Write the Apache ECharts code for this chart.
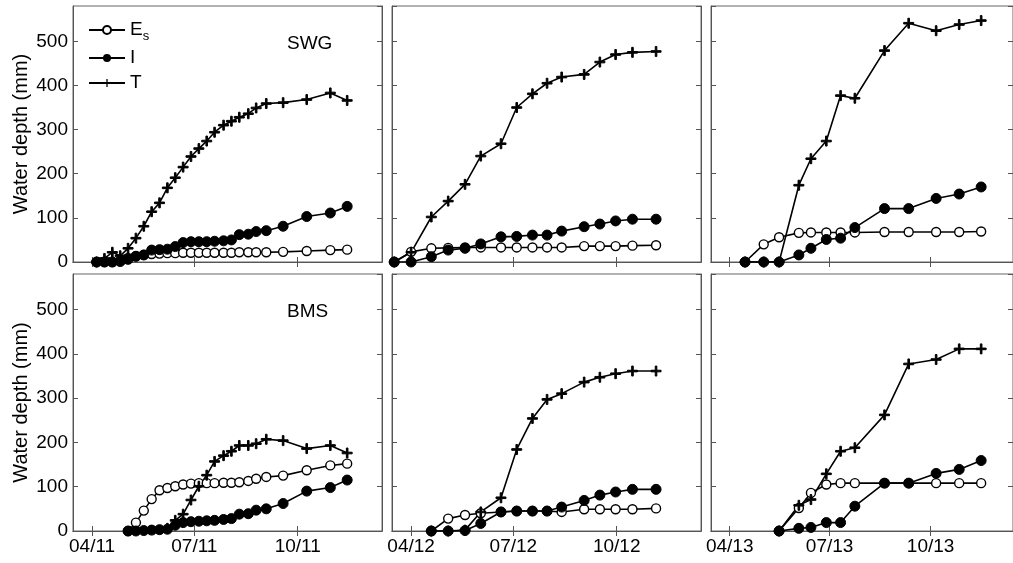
<!DOCTYPE html>
<html>
<head>
<meta charset="utf-8">
<script src="https://cdn.jsdelivr.net/npm/echarts@6/dist/echarts.min.js"></script>
<style>
  html, body { margin: 0; padding: 0; background: #fff; }
  #chart { width: 1013px; height: 563px; }
</style>
</head>
<body>
<div id="chart"></div>
<script>
// sampling dates per season
const dates11 = ['2011-04-05','2011-04-12','2011-04-19','2011-04-26','2011-05-03','2011-05-10','2011-05-17','2011-05-24','2011-05-31','2011-06-07','2011-06-14','2011-06-21','2011-06-28','2011-07-05','2011-07-12','2011-07-19','2011-07-27','2011-08-03','2011-08-10','2011-08-18','2011-08-25','2011-09-03','2011-09-18','2011-10-09','2011-10-30','2011-11-14'];
const dates12 = ['2012-03-17','2012-04-01','2012-04-19','2012-05-04','2012-05-19','2012-06-02','2012-06-20','2012-07-04','2012-07-18','2012-07-31','2012-08-13','2012-09-02','2012-09-16','2012-09-30','2012-10-15','2012-11-05'];
const dates13 = ['2013-04-15','2013-05-02','2013-05-16','2013-06-03','2013-06-14','2013-06-28','2013-07-11','2013-07-24','2013-08-20','2013-09-11','2013-10-06','2013-10-27','2013-11-16'];

// SWG (top row)
const swgEs11 = [0,0,0,3,9,13,16,18,19,20,20,21,21,21,21,21,21,21,22,22,22,22,23,25,27,28];
const swgI11  = [0,0,0,1,6,13,16,27,28,29,35,44,46,46,46,47,48,50,62,63,69,71,81,103,111,126];
const swgT11  = [0,8,22,14,31,54,81,114,134,168,191,215,239,257,274,294,310,319,328,336,349,359,361,368,383,366];
const swgEs12 = [0,23,31,32,33,33,33,33,33,33,33,36,36,36,37,38];
const swgI12  = [0,0,12,27,31,41,57,58,61,61,70,80,86,93,97,97];
const swgT12  = [0,22,102,138,176,240,268,350,381,405,419,425,453,470,475,477];
const swgEs13 = [0,40,56,66,67,67,67,67,68,68,68,68,69];
const swgI13  = [0,0,0,16,31,51,54,78,121,121,144,154,170];
const swgT13  = [0,0,0,174,234,274,377,371,479,541,524,538,547];

// BMS (bottom row), later start dates
const bmsDatesEI11 = dates11.slice(4);
const bmsDatesT11 = dates11.slice(9);
const bmsEs11 = [0,19,46,72,92,97,101,105,107,108,108,108,109,109,110,113,118,122,125,137,148,152];
const bmsI11  = [0,0,1,2,3,4,13,19,21,22,23,24,26,28,38,39,47,50,62,90,98,115];
const bmsT11  = [6,24,38,70,101,126,157,170,180,193,193,197,207,204,186,193,176];
const bmsDates12 = dates12.slice(2);
const bmsEs12 = [0,28,36,40,43,45,45,45,43,49,49,49,49,51];
const bmsI12  = [0,0,1,17,43,45,45,45,54,69,81,88,94,94];
const bmsT12  = [0,0,2,43,75,184,254,297,310,336,347,355,361,361];
const bmsDates13 = dates13.slice(2);
const bmsEs13 = [0,52,86,105,108,108,108,108,108,108,108];
const bmsI13  = [0,6,8,19,19,56,108,108,130,139,159];
const bmsT13  = [0,58,71,129,180,188,262,377,387,411,411];

const years = [2011, 2012, 2013];
const sites = ['SWG', 'BMS'];

const panels = [
  { es: [dates11, swgEs11], i: [dates11, swgI11], t: [dates11, swgT11] },
  { es: [dates12, swgEs12], i: [dates12, swgI12], t: [dates12, swgT12] },
  { es: [dates13, swgEs13], i: [dates13, swgI13], t: [dates13, swgT13] },
  { es: [bmsDatesEI11, bmsEs11], i: [bmsDatesEI11, bmsI11], t: [bmsDatesT11, bmsT11] },
  { es: [bmsDates12, bmsEs12], i: [bmsDates12, bmsI12], t: [bmsDates12, bmsT12] },
  { es: [bmsDates13, bmsEs13], i: [bmsDates13, bmsI13], t: [bmsDates13, bmsT13] }
];

const ts = s => new Date(s + 'T00:00:00').getTime();
const zip = (d, v) => d.map((x, k) => [ts(x), v[k]]);
const plus = 'path://M4.2,0H5.8V4.2H10V5.8H5.8V10H4.2V5.8H0V4.2H4.2Z';
const font = 'Liberation Sans, Arial, sans-serif';

const lefts = [73, 392, 711];
const tops = [6, 274];
const heights = [256, 257];

const chart = echarts.init(document.getElementById('chart'));

const grid = [], xAxis = [], yAxis = [], series = [];
for (let r = 0; r < 2; r++) {
  for (let c = 0; c < 3; c++) {
    const p = r * 3 + c;
    const yr = years[c];
    const ticks = [new Date(yr, 3, 1).getTime(), new Date(yr, 6, 1).getTime(), new Date(yr, 9, 1).getTime()];
    grid.push({
      left: lefts[c], top: tops[r], width: 309, height: heights[r],
      show: true, borderColor: '#666', borderWidth: 1
    });
    const xBase = {
      gridIndex: p, type: 'value',
      min: new Date(yr, 2, 15).getTime(), max: new Date(yr, 11, 15).getTime(),
      splitLine: { show: false },
      axisLine: { show: true, lineStyle: { color: '#555' } },
      axisTick: { show: true, inside: true, length: 5, customValues: ticks, lineStyle: { color: '#555' } }
    };
    xAxis.push(Object.assign({}, xBase, {
      position: 'bottom',
      axisLabel: {
        show: r === 1, customValues: ticks, margin: 6,
        fontSize: 19, color: '#000', fontFamily: font,
        formatter: v => {
          const d = new Date(v);
          return String(d.getMonth() + 1).padStart(2, '0') + '/' + String(d.getFullYear()).slice(2);
        }
      }
    }));
    xAxis.push(Object.assign({}, xBase, { position: 'top', axisLabel: { show: false } }));

    const yBase = {
      gridIndex: p, type: 'value', min: 0, max: 580, interval: 100,
      splitLine: { show: false },
      axisLine: { show: true, lineStyle: { color: '#555' } },
      axisTick: { show: true, inside: true, length: 5, lineStyle: { color: '#555' } }
    };
    yAxis.push(Object.assign({}, yBase, {
      position: 'left',
      name: c === 0 ? 'Water depth (mm)' : '',
      nameLocation: 'middle', nameGap: 42,
      nameTextStyle: { fontSize: 20, color: '#000', fontFamily: font },
      axisLabel: {
        show: c === 0, showMaxLabel: false, margin: 5,
        fontSize: 19, color: '#000', fontFamily: font
      }
    }));
    yAxis.push(Object.assign({}, yBase, { position: 'right', axisLabel: { show: false } }));

    const common = {
      type: 'line', xAxisIndex: p * 2, yAxisIndex: p * 2,
      lineStyle: { color: '#000', width: 1.6 },
      itemStyle: { color: '#000', borderColor: '#000' },
      emphasis: { disabled: true }
    };
    const pd = panels[p];
    series.push(Object.assign({}, common, {
      name: 'Es', data: zip(pd.es[0], pd.es[1]),
      symbol: 'circle', symbolSize: 9,
      itemStyle: { color: '#fff', borderColor: '#000', borderWidth: 1.4 }
    }));
    series.push(Object.assign({}, common, {
      name: 'I', data: zip(pd.i[0], pd.i[1]),
      symbol: 'circle', symbolSize: 10
    }));
    series.push(Object.assign({}, common, {
      name: 'T', data: zip(pd.t[0], pd.t[1]),
      symbol: plus, symbolSize: 10
    }));
  }
}

const option = {
  animation: false,
  backgroundColor: '#fff',
  title: [
    { text: sites[0], left: 282, top: 29, textStyle: { fontSize: 19, fontWeight: 'normal', color: '#000', fontFamily: font } },
    { text: sites[1], left: 282, top: 297, textStyle: { fontSize: 19, fontWeight: 'normal', color: '#000', fontFamily: font } }
  ],
  legend: {
    data: ['Es', 'I', 'T'],
    orient: 'vertical', left: 83, top: 12,
    itemWidth: 36, itemHeight: 10, itemGap: 5,
    selectedMode: false,
    textStyle: {
      fontSize: 19, color: '#000', lineHeight: 20, fontFamily: font,
      rich: {
        e: { fontSize: 19, lineHeight: 26, color: '#000', fontFamily: font },
        s: { fontSize: 13, lineHeight: 13, verticalAlign: 'bottom', color: '#000', fontFamily: font }
      }
    },
    formatter: name => name === 'Es' ? '{e|E}{s|s}' : name
  },
  grid, xAxis, yAxis, series
};
chart.setOption(option);
</script>
</body>
</html>
